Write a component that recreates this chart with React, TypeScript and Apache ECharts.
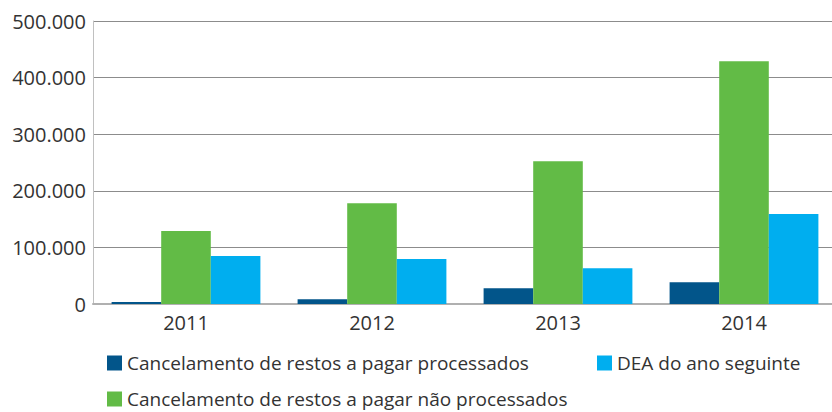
import React, { useEffect, useRef } from "react";
import * as echarts from "echarts";

const categories = ["2011", "2012", "2013", "2014"];
const cancelProcessados = [3500, 8300, 27700, 38300];
const cancelNaoProcessados = [129000, 178000, 252000, 429000];
const deaAnoSeguinte = [84800, 79500, 63000, 159000];
const seriesNames = [
  "Cancelamento de restos a pagar processados",
  "Cancelamento de restos a pagar não processados",
  "DEA do ano seguinte",
];
const seriesColors = ["#02558a", "#62bb46", "#00aeef"];

const FONT = "'Open Sans', 'Noto Sans', sans-serif";
const TEXT = "#333333";

export default function App() {
  const ref = useRef<HTMLDivElement>(null);
  useEffect(() => {
    if (!ref.current) return;
    const chart = echarts.init(ref.current, undefined, { renderer: "svg" });
    const legendBase = {
      orient: "horizontal",
      padding: 0,
      icon: "rect",
      itemWidth: 15,
      itemHeight: 15,
      selectedMode: false,
      textStyle: { fontFamily: FONT, fontSize: 19, color: TEXT, lineHeight: 20 },
    };
    chart.setOption({
      animation: false,
      textStyle: { fontFamily: FONT },
      grid: { left: 93, top: 21, width: 744, height: 283, containLabel: false },
      legend: [
        { ...legendBase, data: [seriesNames[0]], left: 107, top: 353 },
        { ...legendBase, data: [seriesNames[2]], left: 597, top: 353 },
        { ...legendBase, data: [seriesNames[1]], left: 107, top: 389 },
      ],
      xAxis: {
        type: "category",
        data: categories,
        axisLine: { show: true, lineStyle: { color: "#b0b0b0", width: 2 } },
        axisTick: { show: false },
        axisLabel: { fontFamily: FONT, fontSize: 20, color: TEXT, margin: 8 },
      },
      yAxis: {
        type: "value",
        min: 0,
        max: 500000,
        interval: 100000,
        axisLine: { show: true, lineStyle: { color: "#c0c0c0", width: 1 } },
        axisTick: { show: false },
        splitLine: { show: true, lineStyle: { color: "#8c8c8c", width: 1 } },
        axisLabel: {
          fontFamily: FONT,
          fontSize: 20,
          color: TEXT,
          margin: 7,
          formatter: (v: number) =>
            v === 0 ? "0" : String(v).replace(/\B(?=(\d{3})+(?!\d))/g, "."),
        },
      },
      series: [
        {
          name: seriesNames[0],
          type: "bar",
          data: cancelProcessados,
          itemStyle: { color: seriesColors[0] },
          barGap: "0%",
          barCategoryGap: "20%",
        },
        {
          name: seriesNames[1],
          type: "bar",
          data: cancelNaoProcessados,
          itemStyle: { color: seriesColors[1] },
          barGap: "0%",
          barCategoryGap: "20%",
        },
        {
          name: seriesNames[2],
          type: "bar",
          data: deaAnoSeguinte,
          itemStyle: { color: seriesColors[2] },
          barGap: "0%",
          barCategoryGap: "20%",
        },
      ],
    });
    return () => chart.dispose();
  }, []);
  return (
    <div style={{ position: "absolute", left: 0, top: 0, width: 832, height: 412, overflow: "hidden" }}>
      <div ref={ref} style={{ width: 845, height: 412 }} />
    </div>
  );
}
